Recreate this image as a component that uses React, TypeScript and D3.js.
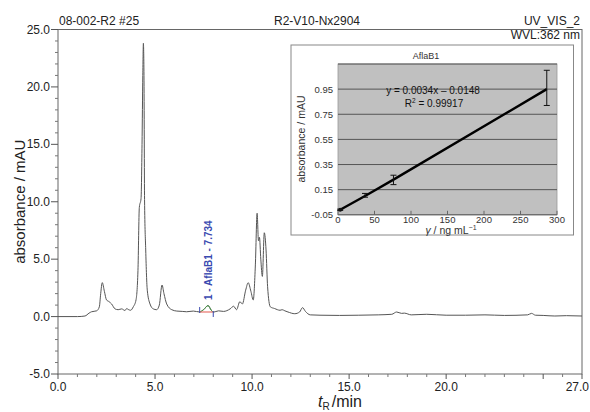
import * as d3 from 'd3';

// chromatogram trace (retention time / min, absorbance / mAU)
const chromTime = [
  0, 1.0, 1.39, 1.6, 1.73, 1.99, 2.13, 2.2, 2.28, 2.39, 2.5, 2.63, 2.76, 2.94, 3.1, 3.28, 3.45, 3.54, 3.62,
  3.74, 3.88, 4.02, 4.12, 4.19, 4.28, 4.33, 4.37, 4.4, 4.43, 4.46, 4.52, 4.6, 4.74, 4.91, 5.08, 5.22, 5.36,
  5.46, 5.6, 5.86, 6.12, 6.4, 6.63, 6.97, 7.3, 7.5, 7.73, 7.9, 8.0, 8.27, 8.53, 8.87, 9.05, 9.2, 9.37, 9.5,
  9.67, 9.8, 9.94, 10.06, 10.17, 10.26, 10.33, 10.38, 10.45, 10.53, 10.63, 10.72, 10.8, 10.94, 11.16, 11.44,
  11.55, 11.69, 11.85, 12.2, 12.45, 12.6, 12.75, 13.0, 13.5, 14.5, 15.5, 16.5, 17.2, 17.45, 17.7, 17.85, 18.2,
  19.0, 20.0, 21.0, 22.0, 23.0, 24.2, 24.4, 24.6, 25.0, 25.6, 26.2, 27.0,
];
const chromAbs = [
  0, 0, 0.05, 0.3, 0.42, 0.5, 0.85, 2.0, 2.96, 2.2, 1.45, 1.3, 1.1, 0.67, 0.6, 0.67, 0.53, 0.7, 0.62,
  0.55, 0.85, 1.45, 4.0, 9.5, 10.3, 15, 21, 23.8, 21, 10.2, 5.8, 2.3, 1.1, 0.67, 0.6, 1.0, 2.75,
  2.0, 1.1, 0.6, 0.48, 0.45, 0.42, 0.48, 0.4, 0.6, 0.96, 0.55, 0.38, 0.5, 0.45, 0.67, 0.9, 0.6, 1.3, 1.1,
  2.3, 2.95, 2.2, 1.45, 4.5, 9.0, 6.6, 6.9, 5.0, 3.5, 7.3, 5.8, 2.6, 0.85, 0.7, 0.55,
  0.6, 0.5, 0.4, 0.25, 0.4, 0.78, 0.45, 0.15, 0.12, 0.1, 0.12, 0.15, 0.2, 0.4, 0.28, 0.3, 0.15,
  0.2, 0.12, 0.12, 0.15, 0.1, 0.15, 0.28, 0.12, 0.1, 0.05, 0.08, 0.05,
];
const peakStart = 7.3;
const peakEnd = 8.0;
const peakLabel = '1 - AflaB1 - 7.734';

const yTicks = [25, 20, 15, 10, 5, 0, -5];
const xTicksLabeled = [0, 5, 10, 15, 20, 27];

// calibration inset
const calConc = [3, 37, 76, 286];
const calAbs = [-0.01, 0.1, 0.23, 0.95];
const calErrLow = [-0.015, 0.09, 0.19, 0.82];
const calErrHigh = [-0.005, 0.12, 0.265, 1.1];
const calYTicks = [0.95, 0.75, 0.55, 0.35, 0.15, -0.05];
const calXTicks = [0, 50, 100, 150, 200, 250, 300];

const W = 590;
const H = 412;
const font = "'Liberation Sans', Arial, Helvetica, sans-serif";

export default function App() {
  const x = d3.scaleLinear().domain([0, 27]).range([58, 582]);
  const y = d3.scaleLinear().domain([-5, 25]).range([374, 29.5]);

  const pts: [number, number][] = chromTime.map((t, i) => [t, chromAbs[i]]);
  const line = d3
    .line<[number, number]>()
    .x((d) => x(d[0]))
    .y((d) => y(d[1]))
    .curve(d3.curveMonotoneX);
  const peakPts = pts.filter((d) => d[0] >= peakStart && d[0] <= peakEnd);
  const baseV = 0.4;

  const minorY = d3.range(-5, 26, 1).filter((v) => v % 5 !== 0);
  const majorX = d3.range(0, 27, 5).concat([27]);
  const minorX = d3.range(0, 28, 1).filter((v) => v % 5 !== 0 && v !== 27);

  // inset scales
  const cx = d3.scaleLinear().domain([0, 300]).range([338, 557]);
  const cy = d3.scaleLinear().domain([-0.05, 1.15]).range([214.8, 64]);
  const calLine = d3
    .line<number>()
    .x((d) => cx(calConc[d]))
    .y((d) => cy(calAbs[d]));

  const peakX = x(7.734);

  return (
    <svg width={W} height={H} style={{ position: 'absolute', left: 0, top: 0, background: '#fff' }} fontFamily={font}>
      {/* header */}
      <text x={59} y={25} fontSize={12} fill="#222">08-002-R2 #25</text>
      <text x={317} y={25} fontSize={12} fill="#222" textAnchor="middle">R2-V10-Nx2904</text>
      <text x={580} y={25} fontSize={12} fill="#222" textAnchor="end">UV_VIS_2</text>
      <text x={580} y={39} fontSize={12} fill="#222" textAnchor="end">WVL:362 nm</text>

      {/* frame */}
      <rect x={58} y={29.5} width={524} height={344.5} fill="none" stroke="#666" strokeWidth={1} />

      {/* y axis */}
      {yTicks.map((v) => (
        <g key={'y' + v}>
          <line x1={51} x2={58} y1={y(v)} y2={y(v)} stroke="#555" />
          <text x={50} y={y(v) + 4} fontSize={12} textAnchor="end" fill="#222">{v.toFixed(1)}</text>
        </g>
      ))}
      {minorY.map((v) => (
        <line key={'my' + v} x1={55} x2={58} y1={y(v)} y2={y(v)} stroke="#777" />
      ))}
      <text
        transform={`translate(25,${y(10)}) rotate(-90)`}
        fontSize={15}
        textAnchor="middle"
        fill="#222"
      >
        absorbance / mAU
      </text>

      {/* x axis */}
      {majorX.map((v) => (
        <line key={'x' + v} x1={x(v)} x2={x(v)} y1={374} y2={379} stroke="#555" />
      ))}
      {minorX.map((v) => (
        <line key={'mx' + v} x1={x(v)} x2={x(v)} y1={374} y2={377} stroke="#777" />
      ))}
      {xTicksLabeled.map((v) => (
        <text
          key={'xl' + v}
          x={v === 27 ? 589 : x(v)}
          y={391}
          fontSize={12}
          textAnchor={v === 27 ? 'end' : 'middle'}
          fill="#222"
        >
          {v.toFixed(1)}
        </text>
      ))}
      <text x={318} y={407} fontSize={16} fill="#222">
        <tspan fontStyle="italic">t</tspan>
        <tspan fontSize={10} dy={3}>R</tspan>
        <tspan dy={-3} dx={2}>/min</tspan>
      </text>

      {/* trace */}
      <path d={line(pts) ?? ''} fill="none" stroke="#555" strokeWidth={1} />
      <path d={line(peakPts) ?? ''} fill="none" stroke="#4a9a4a" strokeWidth={1} />
      <line x1={x(peakStart)} x2={x(peakEnd)} y1={y(baseV)} y2={y(baseV)} stroke="#e8736a" strokeWidth={1.2} />
      <line x1={x(peakStart)} x2={x(peakStart)} y1={y(baseV) - 5} y2={y(baseV) + 1} stroke="#3a4ab0" strokeWidth={1} />
      <line x1={x(peakEnd)} x2={x(peakEnd)} y1={y(baseV) - 1} y2={y(baseV) + 5} stroke="#3a4ab0" strokeWidth={1} />
      <text
        transform={`translate(${peakX + 3.5},300) rotate(-90)`}
        fontSize={10}
        fontWeight="bold"
        fill="#3a4ab0"
      >
        {peakLabel}
      </text>

      {/* inset */}
      <rect x={291} y={45} width={282.5} height={190} fill="#fff" stroke="#888" strokeWidth={1} />
      <rect x={338} y={64} width={219} height={150.8} fill="#c0c0c0" stroke="#999" strokeWidth={0.8} />
      {calYTicks.concat([1.15]).map((v) => (
        <line key={'cg' + v} x1={338} x2={557} y1={cy(v)} y2={cy(v)} stroke="#555" strokeWidth={1} />
      ))}
      {calXTicks.map((v) => (
        <g key={'cx' + v}>
          <line x1={cx(v)} x2={cx(v)} y1={214.8} y2={210.8} stroke="#666" />
          <text x={cx(v)} y={222.5} fontSize={9.5} textAnchor="middle" fill="#333">{v}</text>
        </g>
      ))}
      {calYTicks.map((v) => (
        <text key={'cyl' + v} x={333} y={cy(v) + 3.5} fontSize={9.5} textAnchor="end" fill="#333">
          {v.toFixed(2)}
        </text>
      ))}
      <text x={426} y={59} fontSize={9} textAnchor="middle" fill="#333">AflaB1</text>
      <text
        transform={`translate(305,139) rotate(-90)`}
        fontSize={10.5}
        textAnchor="middle"
        fill="#333"
      >
        absorbance / mAU
      </text>
      <text x={451} y={233.5} fontSize={10.5} textAnchor="middle" fill="#333">
        <tspan fontStyle="italic">γ</tspan> / ng mL
        <tspan fontSize={7} dy={-4}>−1</tspan>
      </text>
      <path d={calLine(d3.range(calConc.length)) ?? ''} fill="none" stroke="#000" strokeWidth={2.4} />
      {calConc.map((c, i) => (
        <g key={'eb' + i} stroke="#111" strokeWidth={1}>
          <line x1={cx(c)} x2={cx(c)} y1={cy(calErrLow[i])} y2={cy(calErrHigh[i])} />
          <line x1={cx(c) - 3} x2={cx(c) + 3} y1={cy(calErrLow[i])} y2={cy(calErrLow[i])} />
          <line x1={cx(c) - 3} x2={cx(c) + 3} y1={cy(calErrHigh[i])} y2={cy(calErrHigh[i])} />
        </g>
      ))}
      <circle cx={cx(calConc[0])} cy={cy(calAbs[0])} r={2} fill="#111" />
      <text x={433} y={94} fontSize={10} textAnchor="middle" fill="#111">y = 0.0034x – 0.0148</text>
      <text x={434} y={107} fontSize={10} textAnchor="middle" fill="#111">
        R<tspan fontSize={6.5} dy={-4}>2</tspan>
        <tspan dy={4}> = 0.99917</tspan>
      </text>
    </svg>
  );
}
